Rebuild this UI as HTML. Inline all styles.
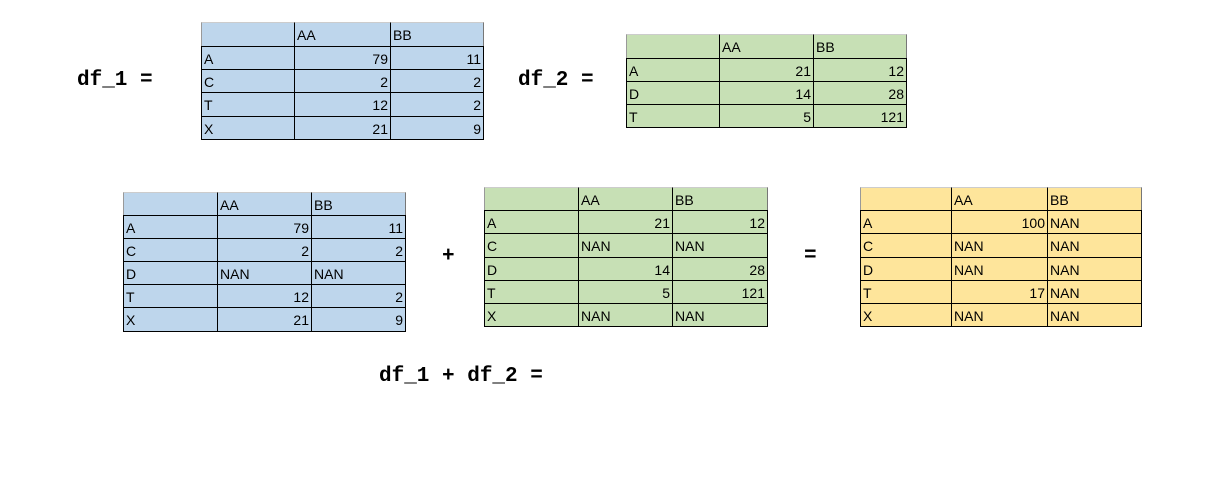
<!DOCTYPE html>
<html><head><meta charset="utf-8">
<style>
body{margin:0;width:1220px;height:480px;background:#fff;position:relative;overflow:hidden;font-family:"Liberation Sans",sans-serif;}
.lbl{position:absolute;font-family:"Liberation Mono",monospace;font-weight:bold;font-size:21px;color:#000;white-space:pre;line-height:21px;}
.cell{position:absolute;box-sizing:border-box;font-size:14px;padding:0 2px;color:#000;white-space:nowrap;overflow:hidden;}
.r{text-align:right;}
</style></head>
<body>
<div class="lbl" style="left:77px;top:70px;">df_1 =</div>
<div class="lbl" style="left:518px;top:70px;">df_2 =</div>
<div class="lbl" style="left:379px;top:366px;">df_1 + df_2 =</div>
<div class="lbl" style="left:442px;top:246px;">+</div>
<div class="lbl" style="left:804px;top:246px;">=</div>
<div id="root"></div>
<script>
const cols = ["AA","BB"];
const df1Rows = ["A","C","T","X"];
const df1AA = ["79","2","12","21"];
const df1BB = ["11","2","2","9"];
const df2Rows = ["A","D","T"];
const df2AA = ["21","14","5"];
const df2BB = ["12","28","121"];
const allRows = ["A","C","D","T","X"];
const al1AA = ["79","2","NAN","12","21"];
const al1BB = ["11","2","NAN","2","9"];
const al2AA = ["21","NAN","14","5","NAN"];
const al2BB = ["12","NAN","28","121","NAN"];
const sumAA = ["100","NAN","NAN","17","NAN"];
const sumBB = ["NAN","NAN","NAN","NAN","NAN"];

function table(name, xs, ys, bg, rows, aa, bb){
  const root=document.getElementById('root');
  const data=[["",cols[0],cols[1]]];
  rows.forEach((r,i)=>data.push([r,aa[i],bb[i]]));
  for(let ri=0;ri<data.length;ri++){
    for(let ci=0;ci<3;ci++){
      const d=document.createElement('div');
      
      
      const v=data[ri][ci];
      const num = ri>0 && ci>0 && v!=="NAN";
      d.className='cell'+(num?' r':'');
      const x0=xs[ci], x1=xs[ci+1], y0=ys[ri], y1=ys[ri+1];
      d.style.left=x0+'px'; d.style.top=y0+'px';
      d.style.width=(x1-x0+1)+'px'; d.style.height=(y1-y0+1)+'px';
      d.style.background=bg;
      d.style.borderLeft='1px solid '+(ri===0?'#777':'#000');
      d.style.borderRight='1px solid '+(ri===0?'#777':'#000');
      d.style.borderTop='1px solid '+(ri===0?'#ccc':'#000');
      d.style.borderBottom='1px solid #000';
      if(ri===0){d.style.borderLeft='1px solid '+(ci===0?'#999':'#000');}
      d.style.lineHeight=(y1-y0+1)+'px';
      d.textContent=v;
      root.appendChild(d);
    }
  }
}
const blue="#bed6ec", green="#c7e0b5", yellow="#fee59b";
table('df1-table',[201,294,390,483],[22,46,69,92,116,139],blue,df1Rows,df1AA,df1BB);
table('df2-table',[626,719,813,906],[34,58,81,104,127],green,df2Rows,df2AA,df2BB);
table('df1-aligned-table',[123,217,311,405],[192,215,238,261,284,307,331],blue,allRows,al1AA,al1BB);
table('df2-aligned-table',[484,578,672,767],[187,210,233,257,280,303,326],green,allRows,al2AA,al2BB);
table('sum-table',[860,951,1047,1141],[187,210,233,257,280,303,326],yellow,allRows,sumAA,sumBB);
</script>
</body></html>
